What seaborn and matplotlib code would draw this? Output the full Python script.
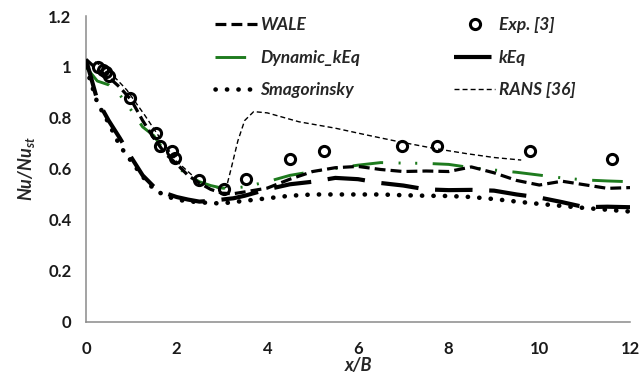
import matplotlib
matplotlib.use("Agg")
import matplotlib.pyplot as plt
import seaborn as sns
import pandas as pd

# Streamwise position grid shared by the LES curves
x_les = [0, 0.25, 0.5, 0.75, 1.0, 1.25, 1.5, 1.75, 2.0, 2.25, 2.5, 2.75, 3.0, 3.25, 3.5,
         4.0, 4.5, 5.0, 5.5, 6.0, 6.5, 7.0, 7.5, 8.0, 8.5, 9.0, 9.5, 10.0, 10.5, 11.0, 11.5, 12.0]

nu_wale = [1.03, 0.99, 0.96, 0.92, 0.87, 0.79, 0.72, 0.66, 0.62, 0.575, 0.545, 0.52, 0.505, 0.503, 0.51,
           0.525, 0.56, 0.59, 0.605, 0.61, 0.598, 0.59, 0.592, 0.59, 0.608, 0.585, 0.555, 0.537, 0.552, 0.538, 0.524, 0.527]
nu_dyn = [1.0, 0.945, 0.93, 0.89, 0.83, 0.765, 0.73, 0.665, 0.61, 0.575, 0.55, 0.535, 0.525, 0.525, 0.53,
          0.55, 0.575, 0.59, 0.602, 0.615, 0.625, 0.623, 0.622, 0.618, 0.605, 0.596, 0.587, 0.576, 0.565, 0.557, 0.553, 0.55]
nu_keq = [1.03, 0.87, 0.79, 0.72, 0.645, 0.575, 0.53, 0.505, 0.49, 0.48, 0.472, 0.475, 0.48, 0.485, 0.495,
          0.52, 0.54, 0.55, 0.565, 0.56, 0.545, 0.535, 0.52, 0.517, 0.518, 0.515, 0.50, 0.488, 0.47, 0.45, 0.452, 0.45]
nu_smag = [1.0, 0.86, 0.78, 0.69, 0.63, 0.57, 0.52, 0.495, 0.48, 0.473, 0.47, 0.466, 0.465, 0.47, 0.475,
           0.485, 0.495, 0.5, 0.5, 0.5, 0.5, 0.497, 0.495, 0.494, 0.49, 0.482, 0.472, 0.463, 0.455, 0.447, 0.44, 0.433]

x_rans = [0.2, 0.5, 0.9, 1.3, 1.6, 2.0, 2.5, 3.0, 3.1, 3.2, 3.35, 3.5, 3.7, 4.0, 4.7, 5.5, 6.2, 6.9, 7.7, 8.4, 9.0, 9.6]
nu_rans = [1.02, 0.985, 0.91, 0.81, 0.73, 0.63, 0.55, 0.52, 0.53, 0.6, 0.71, 0.79, 0.825, 0.82, 0.785, 0.76,
           0.733, 0.707, 0.68, 0.66, 0.645, 0.635]

x_exp = [0.27, 0.38, 0.45, 0.5, 0.97, 1.54, 1.63, 1.89, 1.96, 2.5, 3.05, 3.52, 4.49, 5.24, 6.98, 7.75, 9.79, 11.6]
nu_exp = [1.0, 0.99, 0.98, 0.965, 0.88, 0.74, 0.69, 0.67, 0.645, 0.555, 0.52, 0.56, 0.64, 0.67, 0.69, 0.69, 0.67, 0.638]

x_ticks = [0, 2, 4, 6, 8, 10, 12]
y_ticks = [0, 0.2, 0.4, 0.6, 0.8, 1.0, 1.2]
y_ticklabels = ["0", "0.2", "0.4", "0.6", "0.8", "1", "1.2"]

sns.set_style("white")
plt.rcParams["font.family"] = ["Lato", "DejaVu Sans"]
plt.rcParams["mathtext.fontset"] = "custom"
plt.rcParams["mathtext.bf"] = "Lato:bold:italic"

fig, ax = plt.subplots(figsize=(6.43, 3.81), dpi=100)
fig.subplots_adjust(left=0.1337, right=0.9798, top=0.958, bottom=0.155)

les = pd.DataFrame({"x": x_les, "WALE": nu_wale, "Dynamic_kEq": nu_dyn,
                    "kEq": nu_keq, "Smagorinsky": nu_smag})
rans = pd.DataFrame({"x": x_rans, "nu": nu_rans})
exp = pd.DataFrame({"x": x_exp, "nu": nu_exp})

sns.lineplot(data=les, x="x", y="WALE", ax=ax, color="black", linewidth=2.3,
             linestyle=(0, (3.4, 1.6)), label="WALE", zorder=4)
sns.lineplot(data=les, x="x", y="Dynamic_kEq", ax=ax, color="#1e7b1e", linewidth=2.1,
             linestyle=(0, (10.5, 5.3, 0.7, 5.0, 0.7, 5.3)), label="Dynamic_kEq", zorder=3)
sns.lineplot(data=les, x="x", y="Smagorinsky", ax=ax, color="black", linewidth=3.3,
             linestyle=(0, (0.05, 2.45)), dash_capstyle="round", label="Smagorinsky", zorder=3)
sns.lineplot(data=les, x="x", y="kEq", ax=ax, color="black", linewidth=3.0,
             linestyle=(0, (9.0, 4.0)), label="kEq", zorder=3)
sns.lineplot(data=rans, x="x", y="nu", ax=ax, color="black", linewidth=1.0,
             linestyle=(0, (3.6, 2.2)), label="RANS [36]", zorder=2)
ax.plot(exp["x"], exp["nu"], linestyle="none", marker="o", markersize=7.3,
        markerfacecolor="none", markeredgecolor="black", markeredgewidth=2.2,
        label="Exp. [3]", zorder=5)

ax.set_xlim(0, 12)
ax.set_ylim(0, 1.2)
ax.set_xticks(x_ticks)
ax.set_yticks(y_ticks)
ax.set_yticklabels(y_ticklabels)
for lab in ax.get_xticklabels() + ax.get_yticklabels():
    lab.set_fontweight("bold")
    lab.set_fontsize(12)
    lab.set_color("#1a1a1a")

spine_color = "#8a8a8a"
for side in ("top", "right"):
    ax.spines[side].set_visible(False)
for side in ("left", "bottom"):
    ax.spines[side].set_color(spine_color)
    ax.spines[side].set_linewidth(1.1)
ax.tick_params(axis="both", direction="inout", length=9, width=1.1, color=spine_color)
ax.tick_params(axis="y", pad=6)
ax.tick_params(axis="x", pad=9)

ax.set_xlabel("x/B", fontsize=13, fontweight="bold", fontstyle="italic", labelpad=0)
ax.set_ylabel("Nu/Nu$_{\\mathbf{st}}$", fontsize=13, fontweight="bold", fontstyle="italic", labelpad=8)

handles, labels = ax.get_legend_handles_labels()
order = ["WALE", "Dynamic_kEq", "Smagorinsky", "Exp. [3]", "kEq", "RANS [36]"]
hmap = dict(zip(labels, handles))
leg = ax.legend([hmap[k] for k in order], order, ncol=2, frameon=False,
                loc="upper left", bbox_to_anchor=(0.237, 0.996),
                borderaxespad=0, borderpad=0,
                prop={"weight": "bold", "style": "italic", "size": 12.5},
                handlelength=2.4, handletextpad=0.2, columnspacing=5.4,
                labelspacing=0.95)

fig.savefig("out.png", dpi=100)
